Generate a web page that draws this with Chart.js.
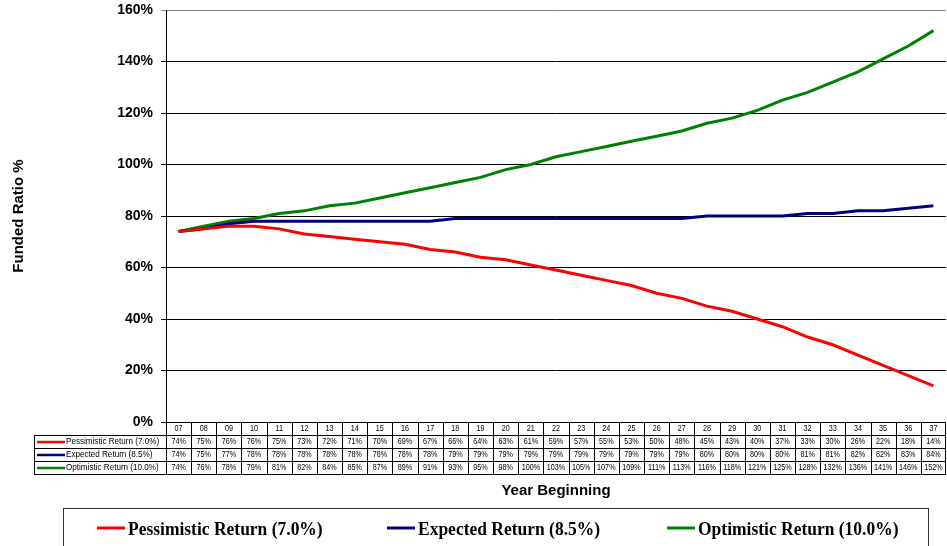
<!DOCTYPE html>
<html>
<head>
<meta charset="utf-8">
<title>Funded Ratio Projection</title>
<script src="https://cdn.jsdelivr.net/npm/chart.js@4.4.1/dist/chart.umd.min.js"></script>
<style>
  html, body { margin: 0; padding: 0; background: #fff; overflow: hidden; }
  #wrap { width: 947px; height: 546px; position: relative; }
</style>
</head>
<body>
<div id="wrap"><canvas id="c" width="947" height="546"></canvas></div>
<script>
// Fiscal year beginning (two-digit)
const years = ['07','08','09','10','11','12','13','14','15','16','17','18','19','20','21','22',
               '23','24','25','26','27','28','29','30','31','32','33','34','35','36','37'];

// Funded ratio, percent
const pessimistic = [74,75,76,76,75,73,72,71,70,69,67,66,64,63,61,59,57,55,53,50,48,45,43,40,37,33,30,26,22,18,14];
const expected    = [74,75,77,78,78,78,78,78,78,78,78,79,79,79,79,79,79,79,79,79,79,80,80,80,80,81,81,82,82,83,84];
const optimistic  = [74,76,78,79,81,82,84,85,87,89,91,93,95,98,100,103,105,107,109,111,113,116,118,121,125,128,132,136,141,146,152];

const seriesNames  = ['Pessimistic Return (7.0%)', 'Expected Return (8.5%)', 'Optimistic Return (10.0%)'];
const seriesColors = ['#FF0000', '#000080', '#008000'];
const seriesData   = [pessimistic, expected, optimistic];

const yMin = 0, yMax = 160, yStep = 20;

// Draw text squeezed horizontally (narrow print look)
function squeezed(ctx, text, x, y, sx, align) {
  ctx.save();
  ctx.translate(x, y);
  ctx.scale(sx, 1);
  ctx.textAlign = align;
  ctx.fillText(text, 0, 0);
  ctx.restore();
}

const whiteBg = {
  id: 'whiteBg',
  beforeDraw(chart) {
    const ctx = chart.ctx;
    ctx.save();
    ctx.fillStyle = '#fff';
    ctx.fillRect(0, 0, chart.width, chart.height);
    ctx.restore();
  }
};

// Data table under the plot, axis caption and boxed legend
const dataTable = {
  id: 'dataTable',
  afterDraw(chart) {
    const ctx = chart.ctx;
    const xs = chart.scales.x;
    const area = chart.chartArea;
    const colW = xs.getPixelForValue(1) - xs.getPixelForValue(0);
    const tLeft = Math.round(xs.getPixelForValue(0) - colW / 2);
    const tRight = area.right;
    const labelLeft = 34;
    const headTop = Math.round(area.bottom);
    const rowH = 13;
    const headBot = headTop + 13;

    ctx.save();
    ctx.strokeStyle = '#000';
    ctx.lineWidth = 1;
    ctx.beginPath();
    // horizontal rules
    ctx.moveTo(tLeft, headTop + 0.5); ctx.lineTo(tRight, headTop + 0.5);
    for (let r = 0; r <= 3; r++) {
      const y = headBot + r * rowH + 0.5;
      ctx.moveTo(labelLeft, y); ctx.lineTo(tRight, y);
    }
    // vertical rules
    ctx.moveTo(labelLeft + 0.5, headBot); ctx.lineTo(labelLeft + 0.5, headBot + 3 * rowH);
    for (let i = 0; i <= years.length; i++) {
      const x = Math.round(xs.getPixelForValue(0) - colW / 2 + i * colW) + 0.5;
      const xx = Math.min(x, tRight - 0.5);
      ctx.moveTo(xx, headTop); ctx.lineTo(xx, headBot + 3 * rowH);
    }
    ctx.stroke();

    ctx.fillStyle = '#000';
    ctx.textBaseline = 'middle';
    ctx.font = '9px "Liberation Sans", Arial, sans-serif';
    years.forEach((yr, i) => {
      squeezed(ctx, yr, xs.getPixelForValue(i), headTop + 7, 0.8, 'center');
    });
    seriesData.forEach((arr, r) => {
      const yc = headBot + r * rowH + 7;
      arr.forEach((v, i) => {
        squeezed(ctx, v + '%', xs.getPixelForValue(i), yc, 0.8, 'center');
      });
      // series key in row header
      ctx.save();
      ctx.strokeStyle = seriesColors[r];
      ctx.lineWidth = 2.5;
      ctx.beginPath();
      ctx.moveTo(37, yc); ctx.lineTo(65, yc);
      ctx.stroke();
      ctx.restore();
      squeezed(ctx, seriesNames[r], 66, yc, 0.9, 'left');
    });

    // category axis caption
    ctx.font = 'bold 15px "Liberation Sans", Arial, sans-serif';
    ctx.textAlign = 'center';
    ctx.fillText('Year Beginning', (area.left + area.right) / 2, 491);

    // legend box
    ctx.strokeStyle = '#333';
    ctx.lineWidth = 1;
    ctx.strokeRect(63.5, 508.5, 865, 60);
    const keyX = [97, 387, 667];
    ctx.font = 'bold 19px "Liberation Serif", "Times New Roman", serif';
    ctx.textBaseline = 'alphabetic';
    seriesNames.forEach((name, r) => {
      ctx.save();
      ctx.strokeStyle = seriesColors[r];
      ctx.lineWidth = 3;
      ctx.beginPath();
      ctx.moveTo(keyX[r], 528); ctx.lineTo(keyX[r] + 28, 528);
      ctx.stroke();
      ctx.restore();
      squeezed(ctx, name, keyX[r] + 31, 535, 0.92, 'left');
    });
    ctx.restore();
  }
};

new Chart(document.getElementById('c'), {
  type: 'line',
  data: {
    labels: years,
    datasets: seriesData.map((arr, r) => ({
      label: seriesNames[r],
      data: arr,
      borderColor: seriesColors[r],
      backgroundColor: seriesColors[r],
      borderWidth: 3,
      pointRadius: 0,
      tension: 0,
      fill: false
    }))
  },
  options: {
    responsive: false,
    animation: false,
    devicePixelRatio: 1,
    layout: { padding: { top: 10, right: 1, bottom: 124, left: 0 } },
    plugins: {
      legend: { display: false },
      tooltip: { enabled: false },
      title: { display: false }
    },
    scales: {
      x: {
        type: 'category',
        display: false,
        offset: true
      },
      y: {
        min: yMin,
        max: yMax,
        afterFit(scale) {
          scale.width = 166;
          scale.paddingTop = 0;
          scale.paddingBottom = 0;
        },
        ticks: {
          stepSize: yStep,
          padding: 8,
          color: '#000',
          font: { family: '"Liberation Sans", Arial, sans-serif', size: 14, weight: 'bold' },
          callback: v => v + '%'
        },
        grid: {
          color: c => (c.tick && c.tick.value === yMax) ? '#8a8a8a' : '#000',
          lineWidth: 1,
          tickLength: 5,
          drawTicks: true
        },
        border: { display: true, color: '#000', width: 1 },
        title: {
          display: true,
          text: 'Funded Ratio %',
          color: '#000',
          font: { family: '"Liberation Sans", Arial, sans-serif', size: 15, weight: 'bold' },
          padding: { top: 10, bottom: 0 }
        }
      }
    }
  },
  plugins: [whiteBg, dataTable]
});
</script>
</body>
</html>
